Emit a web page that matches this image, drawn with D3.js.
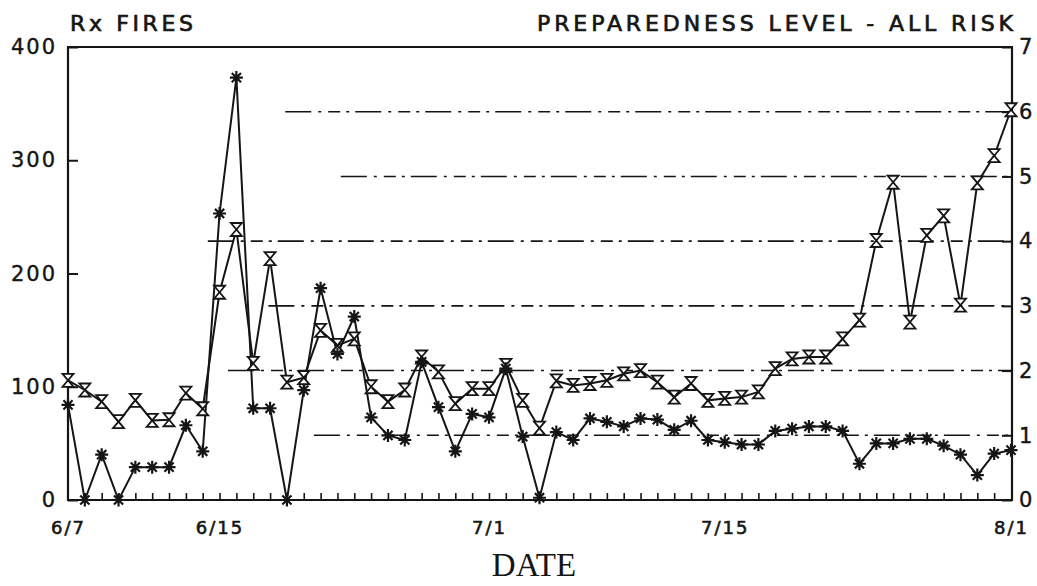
<!DOCTYPE html>
<html>
<head>
<meta charset="utf-8">
<script src="https://cdn.jsdelivr.net/npm/d3@7"></script>
<style>
  html, body { margin: 0; background: #fff; }
  svg { display: block; }
</style>
</head>
<body>
<svg id="chart" width="1037" height="586"></svg>
<script>
// Daily prescribed-fire counts (left axis)
const rxFires = [84, 0, 40, 0, 29, 29, 29, 66, 43, 253,
                 373, 81, 81, 0, 97, 187, 129, 162, 73, 57,
                 53, 122, 82, 43, 76, 73, 116, 56, 2, 60,
                 53, 72, 69, 65, 72, 71, 62, 70, 53, 51,
                 49, 49, 61, 63, 65, 65, 61, 32, 50, 50,
                 54, 54, 48, 40, 22, 41, 44];

// Daily preparedness level, all risk (right axis)
const preparedness = [1.85, 1.70, 1.52, 1.21, 1.54, 1.23, 1.24, 1.65, 1.41, 3.21,
                      4.18, 2.11, 3.73, 1.82, 1.89, 2.62, 2.39, 2.49, 1.75, 1.52,
                      1.70, 2.21, 1.98, 1.49, 1.72, 1.72, 2.08, 1.54, 1.11, 1.84,
                      1.77, 1.80, 1.85, 1.95, 2.00, 1.82, 1.59, 1.80, 1.54, 1.57,
                      1.59, 1.67, 2.03, 2.18, 2.21, 2.21, 2.49, 2.78, 4.01, 4.91,
                      2.75, 4.09, 4.39, 3.01, 4.90, 5.32, 6.03];

const tickDays   = [0, 9, 25, 39, 56];
const tickLabels = ["6/7", "6/15", "7/1", "7/15", "8/1"];
const leftTicks  = [0, 100, 200, 300, 400];
const rightTicks = [0, 1, 2, 3, 4, 5, 6, 7];
const guideLevels = [1, 2, 3, 4, 5, 6];
const guideStartDay = [14.6, 9.5, 11.9, 8.3, 16.2, 12.9];

const svg = d3.select("#chart");
const ink = "#151515";
const L = 68, R = 1012, T = 47, B = 500;
const lastDay = rxFires.length - 1;

const x = d3.scaleLinear().domain([0, lastDay]).range([L, R - 1]);
const yL = d3.scaleLinear().domain([0, 400]).range([B, T]);
const yR = d3.scaleLinear().domain([0, 7]).range([B, T]);

const numFont = "'DejaVu Sans', sans-serif";

// Level guide lines (dash-dot)
svg.append("g").selectAll("line").data(guideLevels).join("line")
  .attr("x1", (d, i) => x(guideStartDay[i])).attr("x2", R)
  .attr("y1", d => yR(d)).attr("y2", d => yR(d))
  .attr("stroke", ink).attr("stroke-width", 1.6)
  .attr("stroke-dasharray", "26 7 3 7 12 6 3 6");

// Left axis
const gl = svg.append("g").attr("transform", `translate(${L},0)`)
  .call(d3.axisLeft(yL).tickValues(leftTicks).tickSize(-10).tickPadding(11));
gl.select(".domain").remove();
gl.selectAll(".tick line").attr("stroke", ink).attr("stroke-width", 2);
gl.selectAll(".tick text").attr("font-family", numFont).attr("font-size", 21)
  .attr("letter-spacing", 2).attr("fill", ink).attr("stroke", ink).attr("stroke-width", 0.4);

// Right axis
const gr = svg.append("g").attr("transform", `translate(${R},0)`)
  .call(d3.axisRight(yR).tickValues(rightTicks).tickFormat(d3.format("d"))
    .tickSize(-10).tickPadding(7));
gr.select(".domain").remove();
gr.selectAll(".tick line").attr("stroke", ink).attr("stroke-width", 2);
gr.selectAll(".tick text").attr("font-family", numFont).attr("font-size", 21)
  .attr("fill", ink).attr("stroke", ink).attr("stroke-width", 0.4);

// Bottom axis: a tick per day, labels at selected days
const labelAt = new Map(tickDays.map((d, i) => [d, tickLabels[i]]));
const gb = svg.append("g").attr("transform", `translate(0,${B})`)
  .call(d3.axisBottom(x).tickValues(d3.range(0, lastDay + 1))
    .tickSize(-7).tickPadding(21).tickFormat(d => labelAt.get(d) || ""));
gb.select(".domain").remove();
gb.selectAll(".tick line").attr("stroke", ink).attr("stroke-width", 1.6);
gb.selectAll(".tick").filter(d => d === 0 || d === lastDay).select("line").remove();
gb.selectAll(".tick text").attr("font-family", numFont).attr("font-size", 18)
  .attr("letter-spacing", 2).attr("fill", ink).attr("stroke", ink).attr("stroke-width", 0.6);

// Frame
svg.append("path")
  .attr("d", `M${L},${B}V${T}H${R}V${B}Z`)
  .attr("fill", "none").attr("stroke", ink).attr("stroke-width", 2.2);

// Series lines
const lineFires = d3.line().x((d, i) => x(i)).y(d => yL(d));
const linePrep = d3.line().x((d, i) => x(i)).y(d => yR(d));

svg.append("path").datum(preparedness).attr("d", linePrep)
  .attr("fill", "none").attr("stroke", ink).attr("stroke-width", 2);
svg.append("path").datum(rxFires).attr("d", lineFires)
  .attr("fill", "none").attr("stroke", ink).attr("stroke-width", 2);

// Hourglass markers for preparedness level
svg.append("g").selectAll("path").data(preparedness).join("path")
  .attr("transform", (d, i) => `translate(${x(i)},${yR(d)})`)
  .attr("d", "M-5.5,-6.5H5.5L-5.5,6.5H5.5Z")
  .attr("fill", "#fff").attr("stroke", ink).attr("stroke-width", 1.8)
  .attr("stroke-linejoin", "miter");

// Asterisk markers for fires
const star = (() => {
  const r = 6.5, a = r * Math.SQRT1_2;
  return `M${-r},0H${r}M0,${-r}V${r}M${-a},${-a}L${a},${a}M${-a},${a}L${a},${-a}`;
})();
svg.append("g").selectAll("path").data(rxFires).join("path")
  .attr("transform", (d, i) => `translate(${x(i)},${yL(d)})`)
  .attr("d", star).attr("fill", "none").attr("stroke", ink).attr("stroke-width", 2.2);

// Titles
svg.append("text").attr("x", 70).attr("y", 31)
  .attr("font-family", numFont).attr("font-size", 22)
  .attr("textLength", 123).attr("lengthAdjust", "spacing")
  .attr("fill", ink).attr("stroke", ink).attr("stroke-width", 0.7)
  .text("Rx FIRES");
svg.append("text").attr("x", 537).attr("y", 31)
  .attr("font-family", numFont).attr("font-size", 22)
  .attr("textLength", 476).attr("lengthAdjust", "spacing")
  .attr("fill", ink).attr("stroke", ink).attr("stroke-width", 0.7)
  .text("PREPAREDNESS LEVEL - ALL RISK");
svg.append("text").attr("x", 534).attr("y", 576)
  .attr("text-anchor", "middle")
  .attr("font-family", "'Liberation Serif', 'DejaVu Serif', serif").attr("font-size", 33)
  .attr("fill", ink)
  .text("DATE");
</script>
</body>
</html>
